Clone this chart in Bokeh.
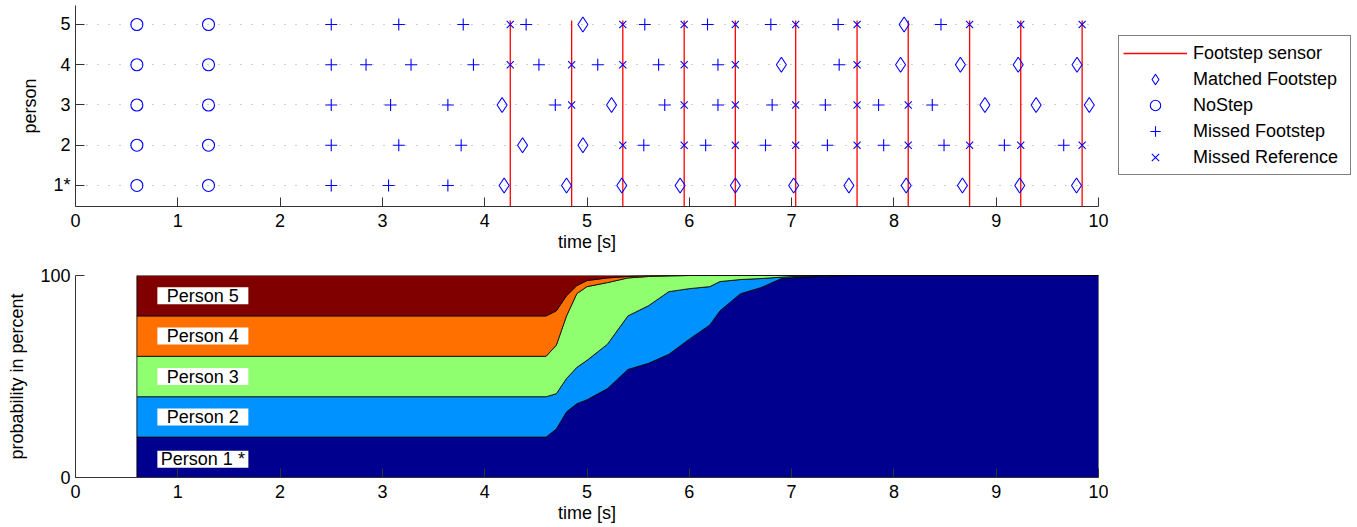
import numpy as np
from bokeh.plotting import figure
from bokeh.layouts import column
from bokeh.models import Legend, LegendItem, FixedTicker
from bokeh.embed import file_html
from bokeh.resources import INLINE
from bokeh.core.properties import value

FONT = "Liberation Sans"

# ---------------- data: top chart ----------------
person_ids = [1, 2, 3, 4, 5]
person_tick_labels = ["1*", "2", "3", "4", "5"]

sensor_times = [4.25, 4.85, 5.35, 5.95, 6.45, 7.04, 7.64, 8.14, 8.74, 9.24, 9.84]
nostep_times = [0.6, 1.3]

matched_p1 = [4.19, 4.80, 5.34, 5.91, 6.45, 7.02, 7.56, 8.12, 8.67, 9.23, 9.785]
matched_p2 = [4.37, 4.96]
matched_p3 = [4.17, 5.24, 8.89, 9.39, 9.91]
matched_p4 = [6.90, 8.065, 8.65, 9.215, 9.79]
matched_p5 = [4.96, 8.10]

missed_p1 = [2.50, 3.06, 3.64]
missed_p2 = [2.50, 3.16, 3.77, 5.555, 6.16, 6.745, 7.35, 7.90, 8.49, 9.08, 9.66]
missed_p3 = [2.50, 3.08, 3.64, 4.69, 5.76, 6.28, 6.81, 7.33, 7.85, 8.375]
missed_p4 = [2.50, 2.84, 3.28, 3.89, 4.53, 5.105, 5.70, 6.28, 7.465]
missed_p5 = [2.50, 3.16, 3.79, 4.405, 5.565, 6.178, 6.797, 7.455, 8.46]

missedref_p1 = []
missedref_p2 = [5.35, 5.95, 6.45, 7.04, 7.64, 8.14, 8.74, 9.24, 9.84]
missedref_p3 = [4.85, 5.95, 6.45, 7.04, 7.64, 8.14]
missedref_p4 = [4.25, 4.85, 5.35, 5.95, 6.45, 7.64]
missedref_p5 = [4.25, 5.35, 5.95, 6.45, 7.04, 7.64, 8.74, 9.24, 9.84]

# ---------------- data: bottom chart ----------------
prob_time = [0.6, 4.6, 4.7, 4.8, 4.9, 5.0, 5.2, 5.4, 5.6, 5.8, 6.0, 6.2, 6.3,
             6.5, 6.7, 6.9, 7.1, 7.4, 7.6, 10.0]
prob_p1 = [20, 20, 24, 32.5, 36.5, 38.5, 44, 53.5, 56.5, 61, 68.5, 75.5, 82.5,
           91, 94, 98.5, 99.2, 99.8, 100, 100]
prob_p2 = [20, 20, 17.5, 16.5, 18, 19.5, 22, 26.5, 28.5, 31, 25, 19, 14.5,
           7, 4.5, 0.7, 0.5, 0.2, 0, 0]
prob_p3 = [20, 20, 24, 31, 36.5, 36.5, 30.5, 18.8, 14.5, 7.8, 6.5, 5.5, 3,
           2, 1.5, 0.8, 0.3, 0, 0, 0]
prob_p4 = [20, 20, 17, 10, 4, 3, 2.3, 0.7, 0.5, 0.2, 0, 0, 0,
           0, 0, 0, 0, 0, 0, 0]
prob_p5 = [20, 20, 17.5, 10, 5, 2.5, 1.2, 0.5, 0, 0, 0, 0, 0,
           0, 0, 0, 0, 0, 0, 0]
prob_labels = ["Person 1 *", "Person 2", "Person 3", "Person 4", "Person 5"]
prob_colors = ["#00008F", "#0092FF", "#8FFF70", "#FF7000", "#800000"]


def flatten(lists):
    xs, ys = [], []
    for pid, lst in zip(person_ids, lists):
        xs += list(lst)
        ys += [pid] * len(lst)
    return xs, ys


def style_axes(p, tick_font="18px"):
    for ax in (p.xaxis[0], p.yaxis[0]):
        ax.major_tick_in = 9
        ax.major_tick_out = 0
        ax.minor_tick_line_color = None
        ax.axis_line_color = "#333333"
        ax.major_tick_line_color = "#333333"
        ax.major_label_text_font = FONT
        ax.major_label_text_font_size = tick_font
        ax.major_label_text_color = "black"
        ax.axis_label_text_font = FONT
        ax.axis_label_text_font_size = "18px"
        ax.axis_label_text_font_style = "normal"
        ax.axis_label_text_color = "black"
    p.outline_line_color = None
    p.xgrid.grid_line_color = None


# ---------------- top figure ----------------
p1 = figure(frame_width=1023, frame_height=201, x_range=(0, 10), y_range=(0.478, 5.472),
            output_backend="svg", toolbar_location=None,
            min_border_left=75, min_border_right=248, min_border_top=5, min_border_bottom=57)
style_axes(p1)
p1.xaxis.ticker = FixedTicker(ticks=list(range(0, 11)))
p1.yaxis.ticker = FixedTicker(ticks=person_ids)
p1.yaxis.major_label_overrides = {pid: lab for pid, lab in zip(person_ids, person_tick_labels)}
p1.xaxis.axis_label = "time [s]"
p1.yaxis.axis_label = "person"
p1.xaxis.major_label_standoff = 7
p1.xaxis.axis_label_standoff = 2
p1.yaxis.major_label_standoff = 5
p1.yaxis.axis_label_standoff = 10
p1.ygrid.grid_line_color = "#A0A0A0"
p1.ygrid.grid_line_dash = "1 10"
p1.ygrid.grid_line_width = 1.2

r_sensor = p1.segment(x0=sensor_times, x1=sensor_times, y0=[0] * len(sensor_times),
                      y1=[5.1] * len(sensor_times), line_color="#FF0000", line_width=1.3)

mx, my = flatten([matched_p1, matched_p2, matched_p3, matched_p4, matched_p5])
r_matched = p1.scatter(mx, my, marker="diamond", size=15, fill_color=None,
                       line_color="#0000FF", line_width=1.1)

nx, ny = flatten([nostep_times] * 5)
r_nostep = p1.scatter(nx, ny, marker="circle", size=12, fill_color=None,
                      line_color="#0000FF", line_width=1.1)

fx, fy = flatten([missed_p1, missed_p2, missed_p3, missed_p4, missed_p5])
r_missed = p1.scatter(fx, fy, marker="cross", size=12, line_color="#0000FF", line_width=1.1)

rx, ry = flatten([missedref_p1, missedref_p2, missedref_p3, missedref_p4, missedref_p5])
r_missedref = p1.scatter(rx, ry, marker="x", size=10, line_color="#0000FF", line_width=1.1)

legend = Legend(items=[
    LegendItem(label="Footstep sensor", renderers=[r_sensor]),
    LegendItem(label="Matched Footstep", renderers=[r_matched]),
    LegendItem(label="NoStep", renderers=[r_nostep]),
    LegendItem(label="Missed Footstep", renderers=[r_missed]),
    LegendItem(label="Missed Reference", renderers=[r_missedref]),
], location=(20, 31), orientation="vertical")
legend.label_text_font = FONT
legend.label_text_font_size = "18px"
legend.label_text_color = "black"
legend.border_line_color = "black"
legend.border_line_width = 1
legend.padding = 4
legend.spacing = 0
legend.margin = 0
legend.glyph_width = 64
legend.glyph_height = 26
legend.label_height = 26
legend.label_width = 153
legend.label_standoff = 6
legend.background_fill_color = "white"
p1.add_layout(legend, "right")

# ---------------- bottom figure ----------------
p2 = figure(frame_width=1023, frame_height=202, x_range=(0, 10), y_range=(0, 100),
            output_backend="svg", toolbar_location=None,
            min_border_left=75, min_border_right=10, min_border_top=12, min_border_bottom=0)
style_axes(p2)
p2.ygrid.grid_line_color = None
p2.xaxis.ticker = FixedTicker(ticks=list(range(0, 11)))
p2.yaxis.ticker = FixedTicker(ticks=[0, 100])
p2.xaxis.axis_label = "time [s]"
p2.yaxis.axis_label = "probability in percent"
p2.xaxis.major_label_standoff = 7
p2.xaxis.axis_label_standoff = 2
p2.yaxis.major_label_standoff = 5
p2.yaxis.axis_label_standoff = 10

series = [prob_p1, prob_p2, prob_p3, prob_p4, prob_p5]
t = np.array(prob_time, dtype=float)
lower = np.zeros_like(t)
for vals, col in zip(series, prob_colors):
    upper = lower + np.array(vals, dtype=float)
    xs = np.concatenate([t, t[::-1]])
    ys = np.concatenate([upper, lower[::-1]])
    p2.patch(xs, ys, fill_color=col, line_color="black", line_width=0.8)
    lower = upper

label_x = [1.245] * 5
label_y = [9, 30, 50, 70, 90]
p2.rect(x=label_x, y=label_y, width=91, height=17, width_units="screen",
        height_units="screen", fill_color="white", line_color=None)
p2.text(x=label_x, y=label_y, text=prob_labels, text_align="center", text_baseline="middle",
        text_font=value(FONT), text_font_size="18px", text_color="black")

layout = column(p1, p2, spacing=0)
open("out.html", "w").write(file_html(layout, INLINE))
